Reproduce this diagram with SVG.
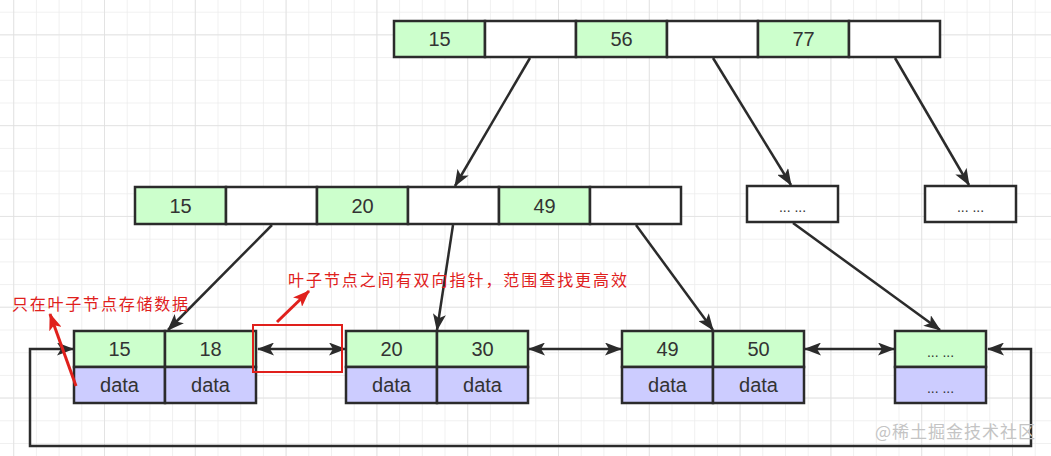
<svg xmlns="http://www.w3.org/2000/svg" width="1051" height="456" viewBox="0 0 1051 456">
<defs>
<pattern id="minor" x="13.2" y="11.7" width="22.7" height="22.7" patternUnits="userSpaceOnUse">
<path d="M0,0 V22.7 M0,0 H22.7" fill="none" stroke="#ececec" stroke-width="1.5"/>
</pattern>
<pattern id="major" x="13.2" y="-56.5" width="90.8" height="90.8" patternUnits="userSpaceOnUse">
<path d="M0,0 V90.8 M0,0 H90.8" fill="none" stroke="#e0e0e0" stroke-width="1.5"/>
</pattern>
<marker id="ah" viewBox="0 0 17 13" refX="16" refY="6.5" markerWidth="17" markerHeight="13" markerUnits="userSpaceOnUse" orient="auto-start-reverse">
<path d="M0,0 L17,6.5 L0,13 L4,6.5 z" fill="#2b2b2b"/>
</marker>
<marker id="rh" viewBox="0 0 17 13" refX="16" refY="6.5" markerWidth="17" markerHeight="13" markerUnits="userSpaceOnUse" orient="auto">
<path d="M0,0 L17,6.5 L0,13 L4,6.5 z" fill="#e0201c"/>
</marker>
<style>
.g{fill:#ccffcc;stroke:#2b2b2b;stroke-width:2.5}
.p{fill:#ccccff;stroke:#2b2b2b;stroke-width:2.5}
.w{fill:#ffffff;stroke:#2b2b2b;stroke-width:2.5}
.t{font-family:"Liberation Sans","Noto Sans",sans-serif;font-size:20px;fill:#333333;text-anchor:middle;dominant-baseline:central}
.d{font-family:"Liberation Sans","Noto Sans",sans-serif;font-size:14px;fill:#333333;text-anchor:middle;dominant-baseline:central}
.e{fill:none;stroke:#2b2b2b;stroke-width:2.5}
.r{font-family:"Noto Sans CJK SC",sans-serif;font-size:16px;fill:#e0201c;dominant-baseline:central}
</style>
</defs>
<rect width="1051" height="456" fill="#ffffff"/>
<rect width="1051" height="456" fill="url(#minor)"/>
<rect width="1051" height="456" fill="url(#major)"/>

<g id="root">
<rect class="g" x="394" y="21" width="91" height="36"/>
<rect class="w" x="485" y="21" width="91" height="36"/>
<rect class="g" x="576" y="21" width="91" height="36"/>
<rect class="w" x="667" y="21" width="91" height="36"/>
<rect class="g" x="758" y="21" width="91" height="36"/>
<rect class="w" x="849" y="21" width="91" height="36"/>
<text class="t" x="439.5" y="39">15</text>
<text class="t" x="621.5" y="39">56</text>
<text class="t" x="803.5" y="39">77</text>
</g>

<g id="inner1">
<rect class="g" x="135" y="187" width="91" height="37"/>
<rect class="w" x="226" y="187" width="91" height="37"/>
<rect class="g" x="317" y="187" width="91" height="37"/>
<rect class="w" x="408" y="187" width="91" height="37"/>
<rect class="g" x="499" y="187" width="91" height="37"/>
<rect class="w" x="590" y="187" width="91" height="37"/>
<text class="t" x="180.5" y="205.5">15</text>
<text class="t" x="362.5" y="205.5">20</text>
<text class="t" x="544.5" y="205.5">49</text>
</g>

<g id="inner2">
<rect class="w" x="747" y="186" width="91" height="36"/>
<text class="d" x="792.5" y="207">... ...</text>
</g>

<g id="inner3">
<rect class="w" x="925" y="186" width="91" height="36"/>
<text class="d" x="970.5" y="207">... ...</text>
</g>

<g id="leaf1">
<rect class="g" x="74" y="331" width="91" height="36"/>
<rect class="g" x="165" y="331" width="91" height="36"/>
<rect class="p" x="74" y="367" width="91" height="36"/>
<rect class="p" x="165" y="367" width="91" height="36"/>
<text class="t" x="119.5" y="349">15</text>
<text class="t" x="210.5" y="349">18</text>
<text class="t" x="119.5" y="385">data</text>
<text class="t" x="210.5" y="385">data</text>
</g>

<g id="leaf2">
<rect class="g" x="346" y="331" width="91" height="36"/>
<rect class="g" x="437" y="331" width="91" height="36"/>
<rect class="p" x="346" y="367" width="91" height="36"/>
<rect class="p" x="437" y="367" width="91" height="36"/>
<text class="t" x="391.5" y="349">20</text>
<text class="t" x="482.5" y="349">30</text>
<text class="t" x="391.5" y="385">data</text>
<text class="t" x="482.5" y="385">data</text>
</g>

<g id="leaf3">
<rect class="g" x="622" y="331" width="91" height="36"/>
<rect class="g" x="713" y="331" width="91" height="36"/>
<rect class="p" x="622" y="367" width="91" height="36"/>
<rect class="p" x="713" y="367" width="91" height="36"/>
<text class="t" x="667.5" y="349">49</text>
<text class="t" x="758.5" y="349">50</text>
<text class="t" x="667.5" y="385">data</text>
<text class="t" x="758.5" y="385">data</text>
</g>

<g id="leaf4">
<rect class="g" x="895" y="331" width="91" height="36"/>
<rect class="p" x="895" y="367" width="91" height="36"/>
<text class="d" x="940.5" y="352">... ...</text>
<text class="d" x="940.5" y="388">... ...</text>
</g>

<g id="connectors">
<line class="e" x1="530" y1="58" x2="455" y2="186" marker-end="url(#ah)"/>
<line class="e" x1="713" y1="58" x2="791" y2="185" marker-end="url(#ah)"/>
<line class="e" x1="895" y1="58" x2="969" y2="185" marker-end="url(#ah)"/>
<line class="e" x1="272" y1="225" x2="168" y2="330" marker-end="url(#ah)"/>
<line class="e" x1="453" y1="225" x2="437" y2="330" marker-end="url(#ah)"/>
<line class="e" x1="636" y1="225" x2="713" y2="330" marker-end="url(#ah)"/>
<line class="e" x1="793" y1="223" x2="940" y2="330" marker-end="url(#ah)"/>
<line class="e" x1="258" y1="349" x2="345" y2="349" marker-start="url(#ah)" marker-end="url(#ah)"/>
<line class="e" x1="529" y1="349" x2="621" y2="349" marker-start="url(#ah)" marker-end="url(#ah)"/>
<line class="e" x1="805" y1="349" x2="894" y2="349" marker-start="url(#ah)" marker-end="url(#ah)"/>
<path class="e" d="M73,349 H30 V446 H1031 V349 H988" marker-start="url(#ah)" marker-end="url(#ah)"/>
</g>

<g id="annotations">
<rect x="253" y="325" width="89" height="47" fill="none" stroke="#e0201c" stroke-width="2"/>
<line x1="76" y1="386" x2="50" y2="314" stroke="#e0201c" stroke-width="3" marker-end="url(#rh)"/>
<line x1="277" y1="322" x2="309" y2="291" stroke="#e0201c" stroke-width="3" marker-end="url(#rh)"/>
<text class="r" x="12" y="303" textLength="176" lengthAdjust="spacing">只在叶子节点存储数据</text>
<text class="r" x="288" y="279" textLength="339" lengthAdjust="spacing">叶子节点之间有双向指针，范围查找更高效</text>
</g>

<text x="875" y="430" font-family="Noto Sans CJK SC, sans-serif" font-size="17" fill="#c4c4c4" dominant-baseline="central" textLength="160" lengthAdjust="spacing">@稀土掘金技术社区</text>
</svg>
